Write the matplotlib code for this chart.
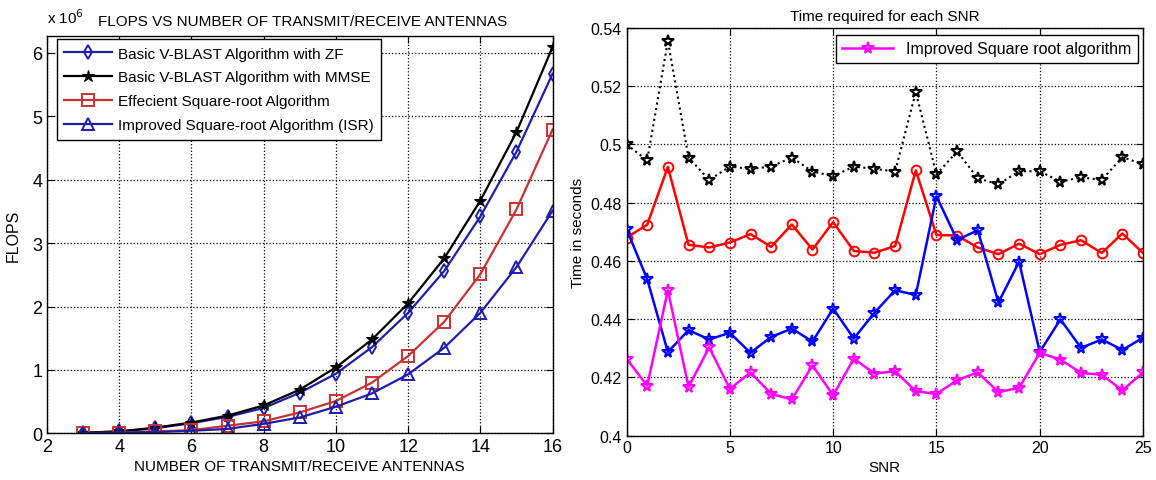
import matplotlib
matplotlib.use("Agg")
import matplotlib.pyplot as plt
import numpy as np

plt.rcParams['font.family'] = ['Liberation Sans', 'DejaVu Sans']

# FLOPS vs antennas (values in units of 1e6)
antennas = [3, 4, 5, 6, 7, 8, 9, 10, 11, 12, 13, 14, 15, 16]
flops_zf = [0.01, 0.03, 0.08, 0.16, 0.26, 0.40, 0.64, 0.94, 1.36, 1.90, 2.56, 3.42, 4.44, 5.67]
flops_mmse = [0.01, 0.03, 0.09, 0.17, 0.28, 0.44, 0.69, 1.04, 1.48, 2.05, 2.76, 3.67, 4.75, 6.09]
flops_esr = [0.005, 0.01, 0.03, 0.05, 0.12, 0.19, 0.33, 0.51, 0.80, 1.22, 1.76, 2.51, 3.53, 4.79]
flops_isr = [0.003, 0.01, 0.02, 0.04, 0.07, 0.15, 0.25, 0.42, 0.63, 0.93, 1.35, 1.90, 2.62, 3.51]

# run time per SNR
snr = list(range(26))
t_black = [0.5000, 0.4945, 0.5356, 0.4955, 0.4878, 0.4924, 0.4916, 0.4924, 0.4955, 0.4907,
           0.4891, 0.4924, 0.4916, 0.4907, 0.5180, 0.4897, 0.4976, 0.4884, 0.4863, 0.4908,
           0.4908, 0.4872, 0.4887, 0.4878, 0.4956, 0.4932]
t_red = [0.4680, 0.4724, 0.4923, 0.4655, 0.4646, 0.4663, 0.4692, 0.4648, 0.4725, 0.4639,
         0.4733, 0.4634, 0.4628, 0.4651, 0.4911, 0.4689, 0.4687, 0.4646, 0.4623, 0.4659,
         0.4623, 0.4655, 0.4671, 0.4627, 0.4694, 0.4627]
t_blue = [0.4709, 0.4537, 0.4287, 0.4362, 0.4330, 0.4353, 0.4284, 0.4339, 0.4367, 0.4323,
          0.4436, 0.4333, 0.4422, 0.4499, 0.4483, 0.4822, 0.4672, 0.4705, 0.4457, 0.4597,
          0.4287, 0.4399, 0.4301, 0.4330, 0.4294, 0.4336]
t_isr = [0.4264, 0.4171, 0.4499, 0.4167, 0.4303, 0.4160, 0.4217, 0.4143, 0.4124, 0.4241,
         0.4138, 0.4264, 0.4213, 0.4221, 0.4152, 0.4143, 0.4190, 0.4217, 0.4149, 0.4164,
         0.4284, 0.4261, 0.4215, 0.4209, 0.4155, 0.4217]

fig = plt.figure(figsize=(11.56, 4.81), dpi=100)
ax1 = fig.add_axes([0.0407, 0.097, 0.4373, 0.8267])
ax2 = fig.add_axes([0.542, 0.0925, 0.4468, 0.8472])

def matlab_axes(ax):
        ax.grid(True, linestyle=':', color='black', linewidth=0.9)
        ax.tick_params(direction='in', top=True, right=True, length=5, width=0.8)
        for s in ax.spines.values():
                s.set_linewidth(1.0)

navy = '#1e1ea8'
dred = '#c83232'

ax1.plot(antennas, flops_zf, color=navy, lw=1.6, marker='d', ms=7, mfc='none', mew=1.4,
         label='Basic V-BLAST Algorithm with ZF')
ax1.plot(antennas, flops_mmse, color='black', lw=1.6, marker='*', ms=9, mew=0.8,
         label='Basic V-BLAST Algorithm with MMSE')
ax1.plot(antennas, flops_esr, color=dred, lw=1.6, marker='s', ms=9, mfc='none', mew=1.4,
         label='Effecient Square-root Algorithm')
ax1.plot(antennas, flops_isr, color=navy, lw=1.6, marker='^', ms=8, mfc='none', mew=1.4,
         label='Improved Square-root Algorithm (ISR)')
ax1.set_xlim(2, 16)
ax1.set_ylim(0, 6.27)
ax1.set_xticks(range(2, 17, 2))
ax1.set_yticks(range(0, 7))
matlab_axes(ax1)
ax1.tick_params(labelsize=13)
ax1.set_xlabel('NUMBER OF TRANSMIT/RECEIVE ANTENNAS', fontsize=11, labelpad=3)
ax1.set_ylabel('FLOPS', fontsize=11.5, labelpad=8)
ax1.set_title('FLOPS VS NUMBER OF TRANSMIT/RECEIVE ANTENNAS', fontsize=11, pad=8, x=0.505)
ax1.text(0.0, 1.025, r'x 10$^6$', transform=ax1.transAxes, fontsize=11, va='bottom')
leg1 = ax1.legend(loc='upper left', bbox_to_anchor=(0.019, 0.992), borderaxespad=0,
                  fontsize=11, fancybox=False, edgecolor='black', framealpha=1,
                  handlelength=3.1, labelspacing=0.65, borderpad=0.5, handletextpad=0.4)
leg1.get_frame().set_linewidth(1.0)

ax2.plot(snr, t_black, color='black', ls=':', lw=1.5, marker='*', ms=8.5, mfc='none', mew=1.5)
ax2.plot(snr, t_red, color='red', lw=1.8, marker='o', ms=7, mfc='none', mew=1.4)
ax2.plot(snr, t_blue, color='blue', lw=1.8, marker='*', ms=8.5, mfc='none', mew=1.5)
ax2.plot(snr, t_isr, color='magenta', lw=1.8, marker='*', ms=8.5, mfc='none', mew=1.5,
         label='Improved Square root algorithm')
ax2.set_xlim(0, 25)
ax2.set_ylim(0.4, 0.54)
ax2.set_xticks(range(0, 26, 5))
yt = np.arange(0.40, 0.5401, 0.02)
ax2.set_yticks(yt)
ax2.set_yticklabels(['0.4', '0.42', '0.44', '0.46', '0.48', '0.5', '0.52', '0.54'])
matlab_axes(ax2)
ax2.tick_params(labelsize=11.5)
ax2.set_xlabel('SNR', fontsize=11, labelpad=3)
ax2.set_ylabel('Time in seconds', fontsize=11, labelpad=4)
ax2.set_title('Time required for each SNR', fontsize=11, pad=6)
leg2 = ax2.legend(loc='upper right', bbox_to_anchor=(0.99, 0.983), borderaxespad=0,
                  fontsize=11.5, fancybox=False, edgecolor='black', framealpha=1,
                  handlelength=3.2, borderpad=0.4)
leg2.get_frame().set_linewidth(1.0)

fig.savefig('out.png', dpi=100)
